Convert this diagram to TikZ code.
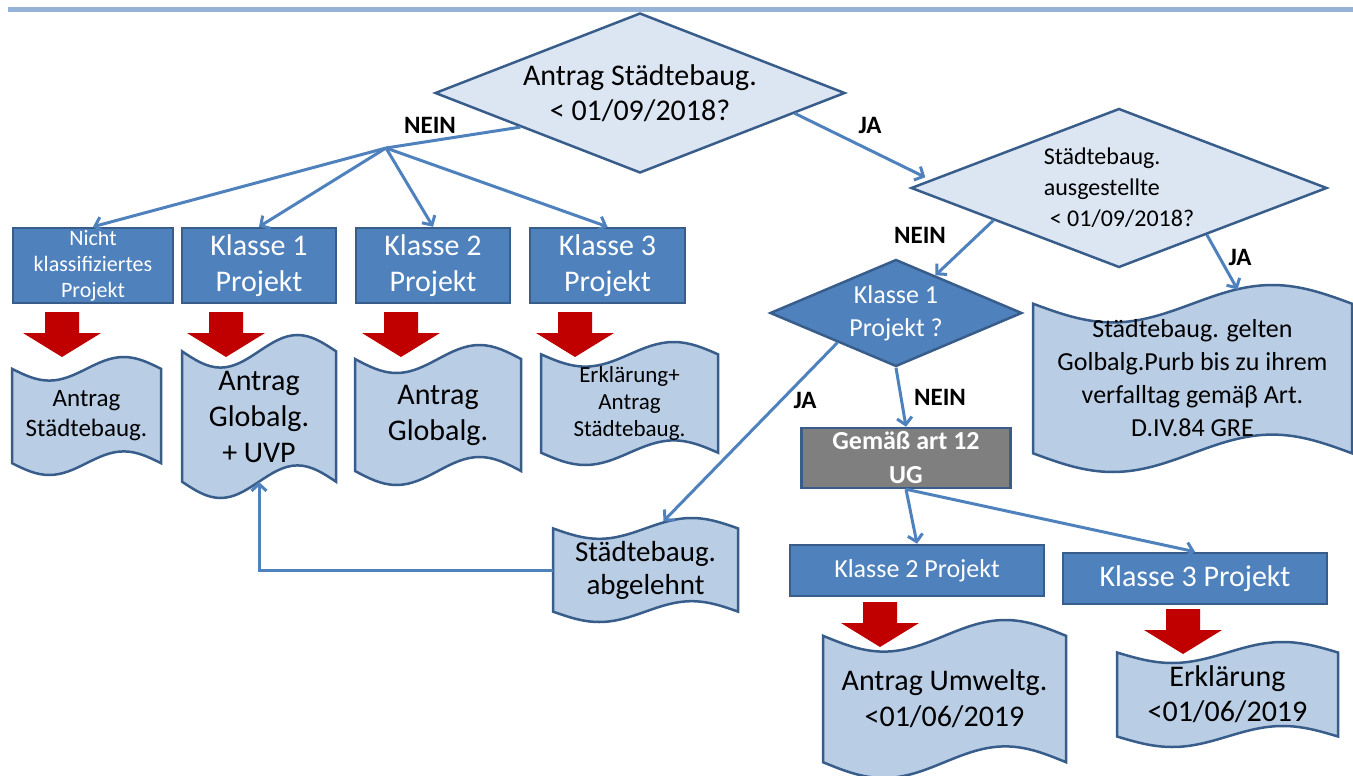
\documentclass[tikz,border=0pt]{standalone}
\usepackage{fontspec}
\setmainfont{Carlito}
\usetikzlibrary{shapes.geometric,arrows.meta,calc}

\definecolor{boxblue}{HTML}{4F81BD}
\definecolor{edgeblue}{HTML}{385D8A}
\definecolor{paleblue}{HTML}{DCE6F2}
\definecolor{tapeblue}{HTML}{B9CDE5}
\definecolor{linkblue}{HTML}{4F81BD}
\definecolor{rulerblue}{HTML}{95B3D7}
\definecolor{arrowred}{HTML}{C00000}
\definecolor{rulegray}{HTML}{7F7F7F}

\tikzset{
  question/.style={diamond, draw=edgeblue, line width=2.5pt, fill=paleblue,
    inner sep=0pt, align=center},
  kbox/.style={rectangle, draw=edgeblue, line width=2.5pt, fill=boxblue,
    text=white, inner sep=0pt, align=center},
  tapeline/.style={draw=edgeblue, line width=2.5pt, fill=tapeblue},
  tapetext/.style={inner sep=0pt, align=center},
  link/.style={draw=linkblue, line width=3pt,
    -{Straight Barb[length=7pt,width=15pt]}},
  lab/.style={font=\bfseries\fontsize{25}{30}\selectfont, inner sep=0pt}
}

\begin{document}
\begin{tikzpicture}[x=1pt, y=-1pt]

    % Fix the page to the size of the reference (y runs downwards)
    \useasboundingbox (0,0) rectangle (1353,776);

    % Ruler line along the top
    \draw[rulerblue, line width=5pt] (8,10) -- (1353,10);

    % The three questions
    \node[question, minimum width=410, minimum height=160, shape aspect=2.56,
      font=\fontsize{30}{35}\selectfont] (dq1) at (640,93)
      {Antrag Städtebaug.\\< 01/09/2018?};
    \node[question, minimum width=416, minimum height=159, shape aspect=2.6,
      align=left, font=\fontsize{24}{31}\selectfont] (dq2) at (1119,188)
      {Städtebaug.\\ausgestellte\\\hspace{0.25em}< 01/09/2018?};
    \node[question, fill=boxblue, text=white, minimum width=252,
      minimum height=107, shape aspect=2.36,
      font=\fontsize{26}{33}\selectfont] (dq3) at (896,313)
      {Klasse 1\\Projekt ?};

    % Project classes in the top row
    \foreach \nm/\cx/\bw/\fs/\ls/\txt in {
        nk/93/160/22/26/{Nicht\\klassifiziertes\\Projekt},
        k1/259/154/30/36/{Klasse 1\\Projekt},
        k2/433/154/30/36/{Klasse 2\\Projekt},
        k3/607.5/155/30/36/{Klasse 3\\Projekt}}{
      \node[kbox, minimum width=\bw, minimum height=75,
        font=\fontsize{\fs}{\ls}\selectfont] (\nm) at (\cx,265.5) {\txt};
    }

    % Gray box and the two classes below it
    \node[kbox, fill=rulegray, minimum width=209, minimum height=60,
      font=\bfseries\fontsize{26}{34}\selectfont] (ug) at (906,458)
      {Gemäß art 12\\UG};
    \node[kbox, minimum width=254, minimum height=51,
      font=\fontsize{26}{30}\selectfont] (kz) at (917,570.5) {Klasse 2 Projekt};
    \node[kbox, minimum width=264, minimum height=51,
      font=\fontsize{30}{34}\selectfont] (kd) at (1195,578.5) {Klasse 3 Projekt};

    % Punched tape documents: corners (xa,ya) and (xb,yb), font size, text
    \foreach \nm/\xa/\ya/\xb/\yb/\fs/\ls/\txt in {
        tSt/12/357/161/475/25/30/{Antrag\\Städtebaug.},
        tGu/182/335/336/498/30/36/{Antrag\\Globalg.\\+ UVP},
        tGl/355/345/521/485/30/36/{Antrag\\Globalg.},
        tEr/541/342/718/465/23/27/{Erklärung+\\Antrag\\Städtebaug.},
        tAb/553/518/738/622/29/33/{Städtebaug.\\abgelehnt},
        tGe/1033/285/1352/472/26/33/{Städtebaug. gelten\\Golbalg.Purb bis zu ihrem\\verfalltag gemäβ Art.\\D.IV.84 GRE},
        tUm/823/620/1066/778/30/36/{Antrag Umweltg.\\<01/06/2019},
        tEk/1117/642/1338/747/30/35/{Erklärung\\<01/06/2019}}{
      % width and height of the tape
      \pgfmathsetmacro{\tpw}{\xb-\xa}
      \pgfmathsetmacro{\tph}{\yb-\ya}
      % wavy top edge, right side, wavy bottom edge, left side
      \draw[tapeline] (\xa,\ya+0.1*\tph)
        sin (\xa+0.25*\tpw,\ya+0.2*\tph) cos (\xa+0.5*\tpw,\ya+0.1*\tph)
        sin (\xa+0.75*\tpw,\ya) cos (\xb,\ya+0.1*\tph)
        -- (\xb,\yb-0.1*\tph)
        sin (\xb-0.25*\tpw,\yb-0.2*\tph) cos (\xb-0.5*\tpw,\yb-0.1*\tph)
        sin (\xb-0.75*\tpw,\yb) cos (\xa,\yb-0.1*\tph) -- cycle;
      \node[tapetext, minimum width=\tpw, minimum height=0.8*\tph,
        font=\fontsize{\fs}{\ls}\selectfont] (\nm) at ({(\xa+\xb)/2},{(\ya+\yb)/2}) {\txt};
    }

    % Red block arrows from each class to its document
    \foreach \cx/\ty in {62/312, 226/312, 401/312, 575/312, 880/602, 1183/609}{
      \fill[arrowred] (\cx-17,\ty) -- (\cx+17,\ty) -- (\cx+17,\ty+21)
        -- (\cx+39,\ty+21) -- (\cx,\ty+45) -- (\cx-39,\ty+21)
        -- (\cx-17,\ty+21) -- cycle;
    }

    % NEIN branch of the first question fans out to the four classes
    \coordinate (nj) at (386,148);
    \draw[link, -] ($(dq1.west)!0.42!(dq1.south)$) -- (nj);
    \foreach \k in {nk, k1, k2, k3}{
      \draw[link] (nj) -- (\k.north);
    }

    % JA branches
    \draw[link, shorten >=6pt] ($(dq1.east)!0.25!(dq1.south)$)
      -- ($(dq2.west)!0.1!(dq2.north)$);
    \draw[link] ($(dq2.east)!0.58!(dq2.south)$) -- ($(tGe.north)+(45,-14)$);
    \draw[link] ($(dq2.west)!0.4!(dq2.south)$) -- ($(dq3.north)!0.31!(dq3.east)$);
    \draw[link] ($(dq3.west)!0.54!(dq3.south)$) -- ($(tAb.north)+(18,-7)$);
    \draw[link] (dq3.south) -- (ug.north);

    % Rejected permit goes back to the global permit request
    \draw[link] (tAb.west) -| (tGu.south);

    % From the gray box to classes 2 and 3
    \draw[link] (ug.south) -- (kz.north);
    \draw[link] (ug.south) -- (kd.north);

    % Branch labels
    \node[lab] (nein1) at (430,125) {NEIN};
    \node[lab] (ja1) at (870,125) {JA};
    \node[lab] (nein2) at (920,235) {NEIN};
    \node[lab] (ja2) at (1240,257) {JA};
    \node[lab] (ja3) at (805,400) {JA};
    \node[lab] (nein3) at (940,397) {NEIN};

  \end{tikzpicture}
\end{document}
